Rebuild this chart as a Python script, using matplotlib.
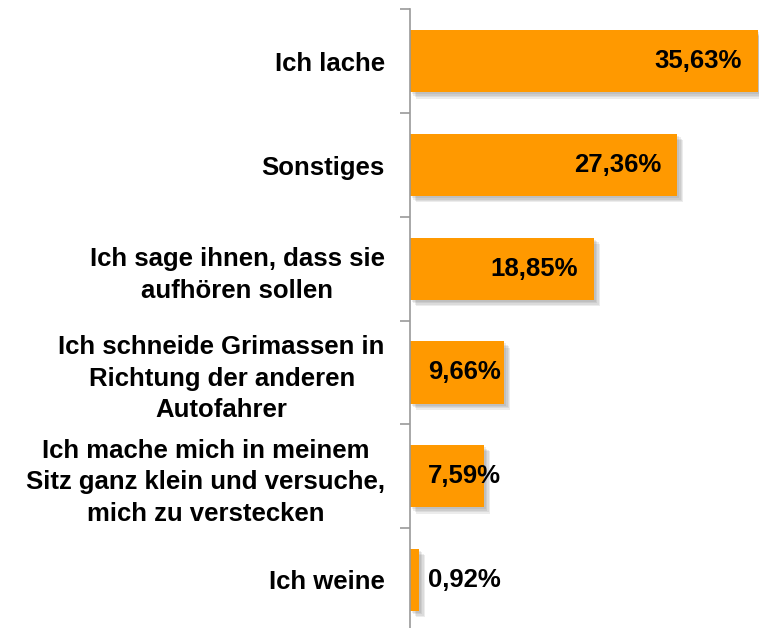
import matplotlib.pyplot as plt
import matplotlib.patheffects as pe
import numpy as np

categories = ['Ich lache', 'Sonstiges', 'Ich sage ihnen, dass sie\naufhören sollen',
              'Ich schneide Grimassen in\nRichtung der anderen\nAutofahrer',
              'Ich mache mich in meinem\nSitz ganz klein und versuche,\nmich zu verstecken',
              'Ich weine']
values = [35.63, 27.36, 18.85, 9.66, 7.59, 0.92]
value_labels = ['35,63%', '27,36%', '18,85%', '9,66%', '7,59%', '0,92%']

plt.rcParams['font.family'] = ['Liberation Sans', 'DejaVu Sans']

fig = plt.figure(figsize=(7.59, 6.28), dpi=100)
ax = fig.add_axes([0.540, -0.006, 0.462, 0.991])

y = np.arange(len(values))
# soft shadow: several faint offset copies
shadow = [pe.SimplePatchShadow(offset=(o, -o), shadow_rgbFace='#666666', alpha=0.12)
          for o in (1.5, 2.5, 3.5, 4.5)] + [pe.Normal()]
bars = ax.barh(y, values, height=0.6, color='#FF9900', zorder=2)
for b in bars:
    b.set_path_effects(shadow)

ax.set_ylim(len(values) - 0.5, -0.5)
ax.set_xlim(0, 35.9)

fs = 18.5
for i, (v, lab) in enumerate(zip(values, value_labels)):
    if v > 12:
        ax.text(v - 1.65, i, lab, ha='right', va='center', fontsize=fs, fontweight='bold', zorder=3)
    else:
        ax.text(1.85, i, lab, ha='left', va='center', fontsize=fs, fontweight='bold', zorder=3)

# category labels at bar centres, tick marks at category boundaries
ax.set_yticks(np.arange(len(values) + 1) - 0.5)
ax.set_yticklabels([])
ax.tick_params(axis='y', which='major', length=7, color='#999999', width=1.2)
ax.set_yticks(y, minor=True)
ax.set_yticklabels(categories, minor=True, fontsize=fs, fontweight='bold',
                   multialignment='center', linespacing=1.4)
ax.tick_params(axis='y', which='minor', length=0, pad=18)

ax.set_xticks([])
for s in ['top', 'right', 'bottom']:
    ax.spines[s].set_visible(False)
ax.spines['left'].set_color('#999999')
ax.spines['left'].set_linewidth(1.2)

fig.savefig('out.png', dpi=100)
